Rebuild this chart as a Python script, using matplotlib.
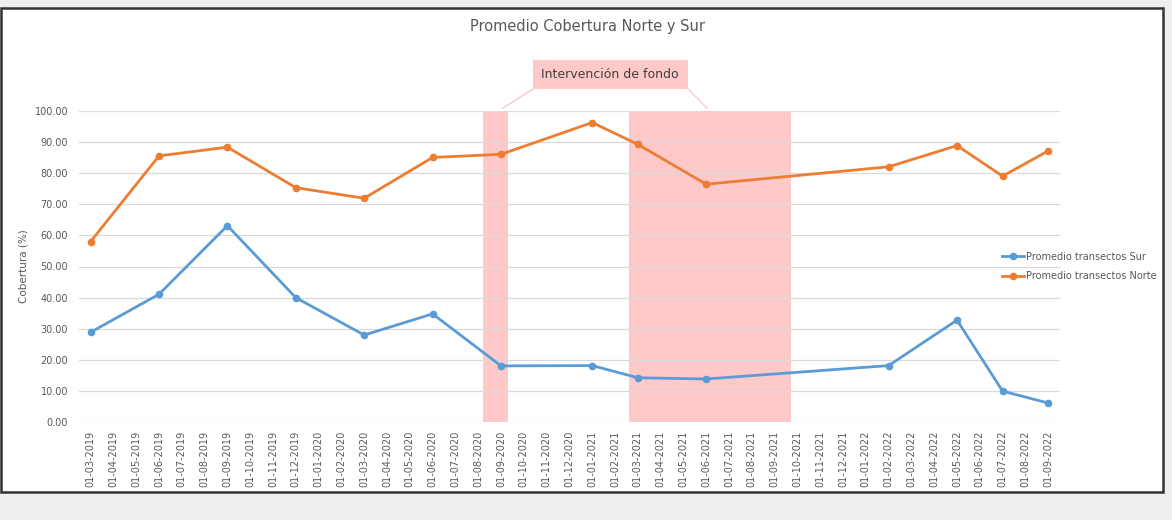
import pandas as pd
import matplotlib.pyplot as plt
from matplotlib.patches import Rectangle
from matplotlib.lines import Line2D

# Meses del eje (mensual, 01-03-2019 a 01-09-2022)
meses = [d.strftime('%d-%m-%Y') for d in pd.date_range('2019-03-01', '2022-09-01', freq='MS')]

# Fechas de muestreo y promedios
fechas = ['01-03-2019', '01-06-2019', '01-09-2019', '01-12-2019', '01-03-2020', '01-06-2020',
          '01-09-2020', '01-01-2021', '01-03-2021', '01-06-2021', '01-02-2022', '01-05-2022',
          '01-07-2022', '01-09-2022']
sur = [28.9, 41.1, 63.1, 40.0, 28.0, 34.8, 18.1, 18.2, 14.3, 13.9, 18.2, 32.8, 10.0, 6.2]
norte = [58.0, 85.5, 88.3, 75.3, 71.9, 85.0, 86.0, 96.2, 89.2, 76.4, 82.0, 88.8, 79.0, 87.1]

# Periodos de intervención (en posiciones de mes)
intervenciones = [(17.2, 18.3), (23.6, 30.7)]

x = [meses.index(f) for f in fechas]

W, H = 1172, 520
fig = plt.figure(figsize=(W / 100, H / 100), dpi=100, facecolor='#efefef')

# Marco blanco del gráfico
fig.patches.append(Rectangle((1 / W, 1 - 492 / H), 1162 / W, 484 / H, transform=fig.transFigure,
                             facecolor='white', edgecolor='#333333', linewidth=1.8, zorder=-10))

ax = fig.add_axes([79.2 / W, 1 - 422.3 / H, 980.4 / W, 311.6 / H])
ax.set_facecolor('none')

for a, b in intervenciones:
    ax.axvspan(a, b, ymin=0, ymax=1, color='#ffc9c9', zorder=1, linewidth=0)

ax.plot(x, sur, marker='o', markersize=4.5, linewidth=2, color='#5b9bd5',
        label='Promedio transectos Sur', zorder=3)
ax.plot(x, norte, marker='o', markersize=4.5, linewidth=2, color='#ed7d31',
        label='Promedio transectos Norte', zorder=3)

ax.set_xlim(-0.5, len(meses) - 0.5)
ax.set_ylim(0, 100)
ax.set_yticks(range(0, 101, 10))
ax.set_yticklabels([f'{v:.2f}' for v in range(0, 101, 10)], fontsize=7, color='#595959')
ax.set_xticks(range(len(meses)))
ax.set_xticklabels(meses, rotation=90, fontsize=7, color='#595959')
ax.tick_params(axis='y', length=0, pad=8)
ax.tick_params(axis='x', length=0, pad=6)
ax.grid(True, axis='y', color='#d9d9d9', linewidth=0.9, zorder=0)
for s in ax.spines.values():
    s.set_visible(False)
ax.set_ylabel('Cobertura (%)', fontsize=7.5, color='#595959', labelpad=4)

fig.text(587 / W, 1 - 27 / H, 'Promedio Cobertura Norte y Sur', ha='center', va='center',
         fontsize=10.5, color='#595959')

# Recuadro "Intervención de fondo"
fig.patches.append(Rectangle((533 / W, 1 - 89 / H), 155 / W, 29 / H, transform=fig.transFigure,
                             facecolor='#ffc9c9', edgecolor='none', zorder=2))
fig.text(610 / W, 1 - 74.5 / H, 'Intervención de fondo', ha='center', va='center',
         fontsize=9, color='#404040')
for (x0, y0), (x1, y1) in [((533, 89), (503, 108)), ((688, 89), (707, 108))]:
    fig.lines.append(Line2D([x0 / W, x1 / W], [1 - y0 / H, 1 - y1 / H], transform=fig.transFigure,
                            color='#f4caca', linewidth=1))

ax.legend(loc='center left', bbox_to_anchor=(0.932, 0.5), frameon=False, fontsize=7,
          labelcolor='#595959', handlelength=2.3, handletextpad=0.2, labelspacing=1.0)

plt.savefig('out.png', dpi=100, facecolor=fig.get_facecolor())
